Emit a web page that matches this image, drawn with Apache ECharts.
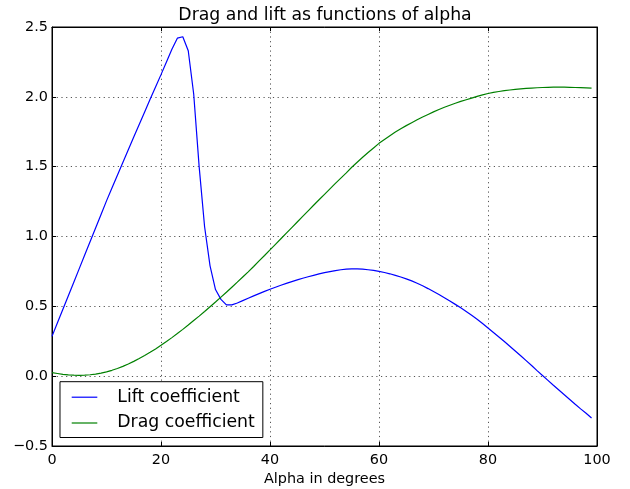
<!DOCTYPE html>
<html>
<head>
<meta charset="utf-8">
<script src="https://cdn.jsdelivr.net/npm/echarts@6/dist/echarts.min.js"></script>
<style>
  html, body { margin: 0; padding: 0; background: #fff; }
  #chart { width: 630px; height: 489px; }
</style>
</head>
<body>
<div id="chart"></div>
<script>
// Lift coefficient, one value per degree of alpha (0..99)
const liftCoefficient = [
  0.285, 0.382, 0.479, 0.576, 0.673, 0.770, 0.867, 0.964, 1.061, 1.158,
  1.255, 1.347, 1.439, 1.530, 1.621, 1.712, 1.802, 1.892, 1.982, 2.071,
  2.159, 2.250, 2.340, 2.420, 2.430, 2.330, 2.020, 1.500, 1.070, 0.790,
  0.620, 0.550, 0.510, 0.510, 0.524, 0.541, 0.558, 0.575, 0.591, 0.607,
  0.622, 0.637, 0.651, 0.664, 0.677, 0.689, 0.701, 0.712, 0.722, 0.732,
  0.741, 0.749, 0.756, 0.762, 0.766, 0.768, 0.768, 0.766, 0.762, 0.757,
  0.750, 0.742, 0.733, 0.722, 0.710, 0.697, 0.682, 0.665, 0.647, 0.627,
  0.606, 0.585, 0.562, 0.538, 0.514, 0.489, 0.463, 0.436, 0.408, 0.377,
  0.345, 0.313, 0.281, 0.248, 0.214, 0.180, 0.146, 0.111, 0.076, 0.040,
  0.005, -0.030, -0.065, -0.099, -0.133, -0.167, -0.201, -0.234, -0.266, -0.300
];

// Drag coefficient, one value per degree of alpha (0..99)
const dragCoefficient = [
  0.025, 0.019, 0.013, 0.009, 0.007, 0.006, 0.007, 0.010, 0.015, 0.022,
  0.031, 0.042, 0.055, 0.070, 0.087, 0.106, 0.126, 0.148, 0.171, 0.195,
  0.221, 0.248, 0.276, 0.305, 0.335, 0.366, 0.398, 0.430, 0.463, 0.497,
  0.531, 0.566, 0.601, 0.637, 0.673, 0.710, 0.747, 0.785, 0.825, 0.864,
  0.904, 0.944, 0.984, 1.024, 1.064, 1.104, 1.144, 1.184, 1.224, 1.263,
  1.302, 1.341, 1.380, 1.418, 1.456, 1.496, 1.532, 1.567, 1.601, 1.634,
  1.667, 1.695, 1.722, 1.748, 1.772, 1.794, 1.815, 1.836, 1.856, 1.874,
  1.892, 1.909, 1.925, 1.940, 1.954, 1.967, 1.979, 1.991, 2.003, 2.014,
  2.024, 2.032, 2.038, 2.044, 2.049, 2.053, 2.057, 2.060, 2.063, 2.065,
  2.067, 2.068, 2.069, 2.069, 2.069, 2.068, 2.067, 2.066, 2.064, 2.062
];

const seriesNames = ['Lift coefficient', 'Drag coefficient'];
const xTickLabels = ['0', '20', '40', '60', '80', '100'];
const yTickLabels = ['\u22120.5', '0.0', '0.5', '1.0', '1.5', '2.0', '2.5'];

const alpha = liftCoefficient.map((_, i) => i);
const FONT = 'DejaVu Sans';

const X_MIN = 0, X_MAX = 100, X_STEP = 20;
const Y_MIN = -0.5, Y_MAX = 2.5, Y_STEP = 0.5;

const gridSplit = {
  show: true,
  lineStyle: { color: '#555', width: 1, type: [1.2, 3.5] }
};

const tick = { show: true, inside: true, length: 4, lineStyle: { color: '#000', width: 1 } };
const frameLine = { show: true, onZero: false, lineStyle: { color: '#000', width: 1 } };

const chart = echarts.init(document.getElementById('chart'), null, { renderer: 'canvas' });

chart.setOption({
  backgroundColor: '#fff',
  animation: false,
  textStyle: { fontFamily: FONT },
  graphic: [{
    type: 'text',
    x: 325,
    y: 15.5,
    style: {
      text: 'Drag and lift as functions of alpha',
      x: 0, y: 0,
      font: '17.3px "DejaVu Sans"',
      fill: '#000',
      textAlign: 'center',
      textVerticalAlign: 'middle'
    }
  }],
  grid: {
    left: 52, right: 33, top: 27, bottom: 43,
    outerBoundsMode: 'none',
    containLabel: false,
    show: true, borderColor: '#000', borderWidth: 1, backgroundColor: 'transparent'
  },
  legend: {
    orient: 'vertical',
    left: 60,
    top: 381.7,
    padding: [6.5, 8, 5.5, 11.7],
    backgroundColor: '#fff',
    borderColor: '#000',
    borderWidth: 1,
    borderRadius: 0,
    icon: 'rect',
    itemWidth: 25.6,
    itemHeight: 1.2,
    itemGap: 7.8,
    data: seriesNames,
    textStyle: {
      fontFamily: FONT, fontSize: 17.3, color: '#000',
      lineHeight: 18, padding: [0, 0, 0, 15]
    }
  },
  xAxis: [{
    type: 'value',
    min: X_MIN, max: X_MAX, interval: X_STEP,
    name: 'Alpha in degrees',
    nameLocation: 'middle',
    nameGap: 26,
    nameTextStyle: { fontFamily: FONT, fontSize: 14.4, color: '#000' },
    axisLine: frameLine,
    axisTick: tick,
    axisLabel: {
      fontFamily: FONT, fontSize: 14.4, color: '#000', margin: 7,
      formatter: v => xTickLabels[Math.round((v - X_MIN) / X_STEP)]
    },
    splitLine: gridSplit
  }, {
    type: 'value', position: 'top',
    min: X_MIN, max: X_MAX, interval: X_STEP,
    axisLine: frameLine, axisTick: tick,
    axisLabel: { show: false }, splitLine: { show: false }
  }],
  yAxis: [{
    type: 'value',
    min: Y_MIN, max: Y_MAX, interval: Y_STEP,
    axisLine: frameLine,
    axisTick: tick,
    axisLabel: {
      fontFamily: FONT, fontSize: 14.4, color: '#000', margin: 4,
      formatter: v => yTickLabels[Math.round((v - Y_MIN) / Y_STEP)]
    },
    splitLine: gridSplit
  }, {
    type: 'value', position: 'right',
    min: Y_MIN, max: Y_MAX, interval: Y_STEP,
    axisLine: frameLine, axisTick: tick,
    axisLabel: { show: false }, splitLine: { show: false }
  }],
  series: [{
    name: seriesNames[0],
    type: 'line',
    data: alpha.map((a, i) => [a, liftCoefficient[i]]),
    symbol: 'none',
    lineStyle: { color: '#0000ff', width: 1.2 },
    itemStyle: { color: '#0000ff' },
    z: 3
  }, {
    name: seriesNames[1],
    type: 'line',
    data: alpha.map((a, i) => [a, dragCoefficient[i]]),
    symbol: 'none',
    lineStyle: { color: '#008000', width: 1.2 },
    itemStyle: { color: '#008000' },
    z: 3
  }]
});
</script>
</body>
</html>
